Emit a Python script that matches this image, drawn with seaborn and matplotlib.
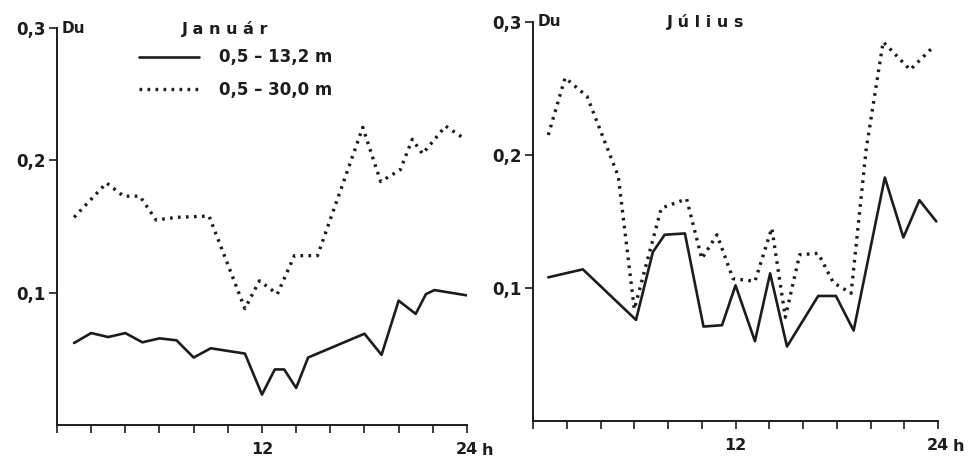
import numpy as np
import pandas as pd
import matplotlib
matplotlib.use("Agg")
import matplotlib.pyplot as plt
import seaborn as sns

# ---- data ----
jan_solid_h = [1, 2, 3, 4, 5, 6, 7, 8, 9, 11, 12, 12.75, 13.3, 14, 14.7, 18, 19, 20, 21, 21.6, 22.1, 24]
jan_solid_v = [0.062, 0.0695, 0.0665, 0.0695, 0.0625, 0.0655, 0.064, 0.051, 0.058, 0.054, 0.023,
               0.042, 0.042, 0.028, 0.051, 0.069, 0.053, 0.094, 0.084, 0.099, 0.102, 0.098]
jan_dot_h = [1, 2.9, 3.9, 4.85, 5.8, 7, 8.9, 11, 11.85, 12.9, 13.9, 15.25, 17.9, 18.95, 20.1, 20.8, 21.4, 22.75, 23.9]
jan_dot_v = [0.157, 0.183, 0.173, 0.173, 0.155, 0.157, 0.158, 0.088, 0.109, 0.099, 0.128, 0.128,
             0.225, 0.184, 0.193, 0.216, 0.205, 0.226, 0.216]

jul_solid_h = [0.9, 2.95, 6.1, 7.1, 7.8, 9.0, 10.1, 11.2, 12.0, 13.15, 14.05, 15.05, 16.9, 17.95, 19.0, 20.85, 21.95, 22.9, 23.9]
jul_solid_v = [0.108, 0.114, 0.076, 0.127, 0.140, 0.141, 0.071, 0.072, 0.102, 0.060, 0.111, 0.056,
               0.094, 0.094, 0.068, 0.183, 0.138, 0.166, 0.150]
jul_dot_h = [0.9, 1.9, 3.2, 5.05, 6.0, 7.6, 9.1, 10.0, 10.9, 11.85, 13.15, 14.15, 14.95, 15.8, 16.9, 17.8, 18.85, 19.75, 20.75, 22.35, 23.7]
jul_dot_v = [0.215, 0.258, 0.244, 0.184, 0.084, 0.160, 0.167, 0.122, 0.140, 0.107, 0.105, 0.145,
             0.078, 0.125, 0.126, 0.104, 0.096, 0.205, 0.285, 0.264, 0.281]

series_names = ["0,5 \u2013 13,2 m", "0,5 \u2013 30,0 m"]
titles = ["J a n u á r", "J ú l i u s"]
ytick_vals = [0.1, 0.2, 0.3]
ytick_labels = ["0,1", "0,2", "0,3"]
xtick_vals = list(range(0, 25, 2))
xtick_labels = ["" if h not in (12, 24) else str(h) for h in xtick_vals]

INK = "#1c1c1c"

sns.set_style("ticks")
plt.rcParams["font.family"] = ["DejaVu Sans"]
plt.rcParams["font.weight"] = "bold"

fig = plt.figure(figsize=(9.71, 4.63), dpi=100)
ax1 = fig.add_axes([0.0587, 0.0821, 0.4222, 0.857])
ax2 = fig.add_axes([0.549, 0.0907, 0.417, 0.862])

panels = [
    (ax1, jan_solid_h, jan_solid_v, jan_dot_h, jan_dot_v, titles[0]),
    (ax2, jul_solid_h, jul_solid_v, jul_dot_h, jul_dot_v, titles[1]),
]

for i, (ax, sh, sv, dh, dv, title) in enumerate(panels):
    df_s = pd.DataFrame({"h": sh, "v": sv})
    df_d = pd.DataFrame({"h": dh, "v": dv})
    sns.lineplot(data=df_s, x="h", y="v", ax=ax, color=INK, lw=1.9,
                 label=series_names[0] if i == 0 else None)
    sns.lineplot(data=df_d, x="h", y="v", ax=ax, color=INK, lw=2.4,
                 linestyle=(0, (0.8, 1.6)), label=series_names[1] if i == 0 else None)
    ax.set_xlim(0, 24)
    ax.set_ylim(0, 0.3)
    ax.set_xlabel("")
    ax.set_ylabel("")
    for s in ["top", "right"]:
        ax.spines[s].set_visible(False)
    for s in ["left", "bottom"]:
        ax.spines[s].set_color(INK)
        ax.spines[s].set_linewidth(1.4)
    ax.set_yticks(ytick_vals)
    ax.set_yticklabels(ytick_labels, fontsize=12, fontweight="bold", color=INK)
    ax.set_xticks(xtick_vals)
    ax.set_xticklabels(xtick_labels, fontsize=11.5, fontweight="bold", color=INK)
    ax.tick_params(axis="both", direction="out", length=6, width=1.2, color=INK, pad=2,
                   left=True, bottom=True)
    ax.tick_params(axis="x", pad=6)
    ax.annotate("Du", xy=(0, 0.3), xycoords="data", xytext=(3, 0), textcoords="offset points",
                ha="left", va="center", fontsize=11, fontweight="bold", color=INK)
    ax.annotate("h", xy=(24, 0), xycoords="data", xytext=(10.5, -18.5), textcoords="offset points",
                ha="left", va="center", fontsize=11.5, fontweight="bold", color=INK)
    ax.set_title(title, fontsize=11.5, fontweight="bold", color=INK, x=0.41 if i == 0 else 0.425,
                 y=1.0, pad=-4)

leg = ax1.legend(loc="upper left", bbox_to_anchor=(0.18, 0.97), frameon=False,
                 handlelength=3.6, handletextpad=1.2, labelspacing=0.85, borderpad=0,
                 prop={"size": 12, "weight": "bold"})
for t in leg.get_texts():
    t.set_color(INK)

fig.savefig("out.png", dpi=100)
